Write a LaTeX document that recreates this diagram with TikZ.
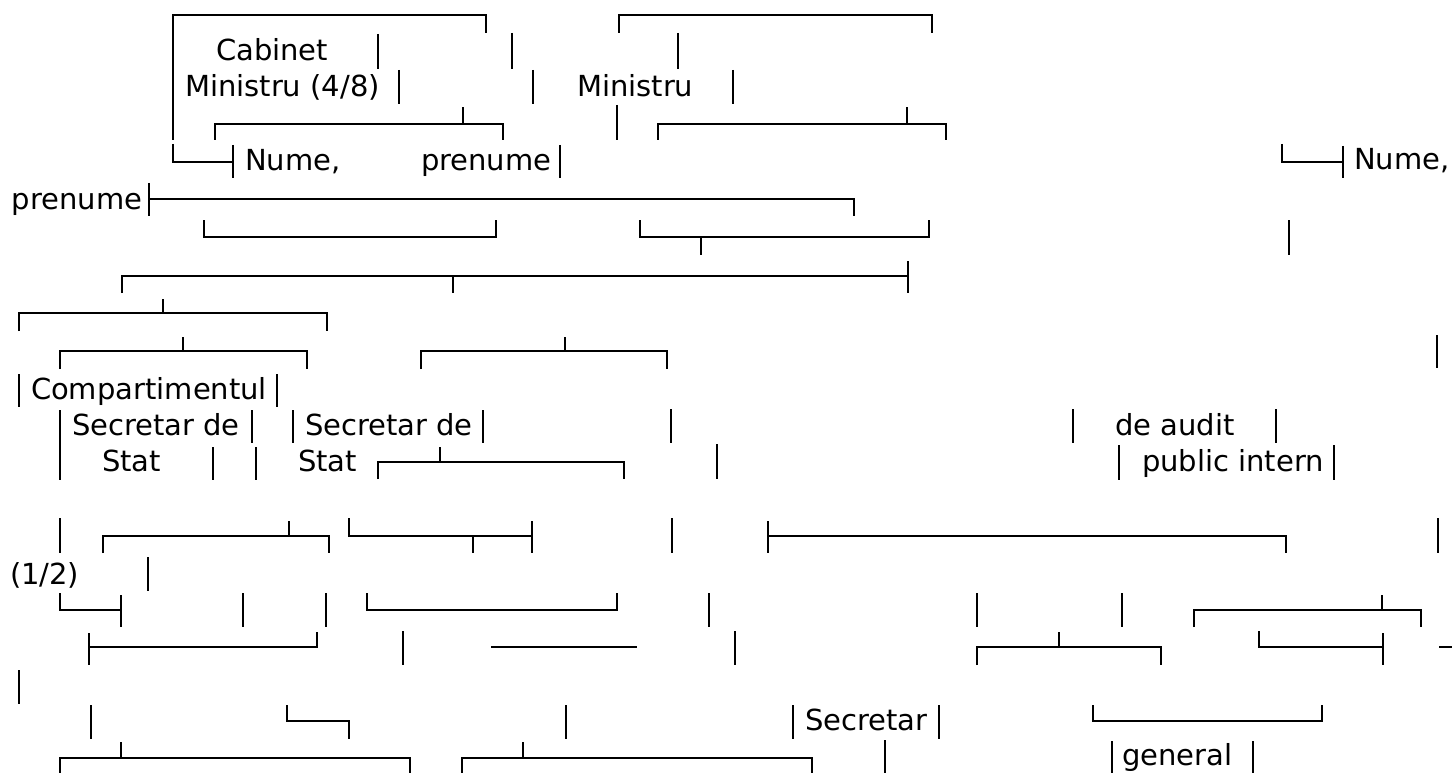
\documentclass[tikz,border=0pt]{standalone}
\usepackage{fontspec}
\setmainfont{DejaVu Sans}
\tikzset{
  bx/.style={line width=2pt, line cap=butt, line join=miter, black},
  lbl/.style={anchor=base west, inner sep=0pt, outer sep=0pt, font=\fontsize{29}{34}\selectfont}
}
\begin{document}
\begin{tikzpicture}[x=1pt,y=-1pt]
\useasboundingbox[fill=white] (0,0) rectangle (1452,773);
% ---------- text ----------
\node[lbl] (cab)  at (216,61) {Cabinet};
\node[lbl] (min1) at (185,97) {Ministru (4/8)};
\node[lbl] (min2) at (577,97) {Ministru};
\node[lbl] (num1) at (245,171) {Nume,};
\node[lbl] (pre1) at (421,171) {prenume};
\node[lbl] (num2) at (1354,170) {Nume,};
\node[lbl] (pre2) at (12,209) {prenume};
\node[lbl] (comp) at (31,399) {Compartimentul};
\node[lbl] (sec1) at (72,435) {Secretar de};
\node[lbl] (sec2) at (305,435) {Secretar de};
\node[lbl] (aud)  at (1115,435) {de audit};
\node[lbl] (st1)  at (102,471) {Stat};
\node[lbl] (st2)  at (298,471) {Stat};
\node[lbl] (pub)  at (1142,471) {public intern};
\node[lbl] (half) at (10,584) {(1/2)};
\node[lbl] (secg) at (805,730) {Secretar};
\node[lbl] (gen)  at (1122,765) {general};
% ---------- row 0 ----------
\draw[bx] (173,140) -- (173,15) -- (486,15) -- (486,33);
\draw[bx] (619,33) -- (619,15) -- (932,15) -- (932,33);
% ---------- row 1 ----------
\draw[bx] (378,34) -- (378,69);
\draw[bx] (512,33) -- (512,69);
\draw[bx] (678,33) -- (678,69);
% ---------- row 2 ----------
\draw[bx] (399,70) -- (399,104);
\draw[bx] (533,70) -- (533,104);
\draw[bx] (733,70) -- (733,104);
% ---------- row 3 ----------
\draw[bx] (215,140) -- (215,124) -- (503,124) -- (503,140);
\draw[bx] (463,124) -- (463,107);
\draw[bx] (617,105) -- (617,140);
\draw[bx] (658,140) -- (658,124) -- (946,124) -- (946,140);
\draw[bx] (907,124) -- (907,107);
% ---------- row 4 ----------
\draw[bx] (173,144) -- (173,162) -- (233,162);
\draw[bx] (233,145) -- (233,178);
\draw[bx] (560,145) -- (560,178);
\draw[bx] (1282,144) -- (1282,162) -- (1343,162);
\draw[bx] (1343,146) -- (1343,178);
% ---------- row 5 ----------
\draw[bx] (149,183) -- (149,216);
\draw[bx] (149,199) -- (854,199) -- (854,216);
% ---------- row 6 ----------
\draw[bx] (204,220) -- (204,237) -- (496,237) -- (496,220);
\draw[bx] (640,220) -- (640,237) -- (929,237) -- (929,220);
\draw[bx] (701,237) -- (701,255);
\draw[bx] (1289,220) -- (1289,255);
% ---------- row 7 ----------
\draw[bx] (122,293) -- (122,276) -- (908,276);
\draw[bx] (908,261) -- (908,293);
\draw[bx] (453,276) -- (453,293);
% ---------- row 8 ----------
\draw[bx] (19,331) -- (19,313) -- (327,313) -- (327,331);
\draw[bx] (163,313) -- (163,299);
% ---------- row 9 ----------
\draw[bx] (60,369) -- (60,351) -- (307,351) -- (307,369);
\draw[bx] (183,351) -- (183,337);
\draw[bx] (421,369) -- (421,351) -- (667,351) -- (667,369);
\draw[bx] (565,351) -- (565,337);
\draw[bx] (1437,335) -- (1437,368);
% ---------- row 10 ----------
\draw[bx] (19,374) -- (19,407);
\draw[bx] (277,374) -- (277,407);
% ---------- row 11 ----------
\draw[bx] (60,410) -- (60,480);
\draw[bx] (252,410) -- (252,443);
\draw[bx] (293,410) -- (293,443);
\draw[bx] (483,410) -- (483,443);
\draw[bx] (671,409) -- (671,443);
\draw[bx] (1073,409) -- (1073,443);
\draw[bx] (1276,409) -- (1276,443);
% ---------- row 12 ----------
\draw[bx] (213,447) -- (213,480);
\draw[bx] (256,447) -- (256,480);
\draw[bx] (378,479) -- (378,462) -- (624,462) -- (624,479);
\draw[bx] (440,462) -- (440,447);
\draw[bx] (717,444) -- (717,479);
\draw[bx] (1119,445) -- (1119,480);
\draw[bx] (1334,445) -- (1334,480);
% ---------- row 14 ----------
\draw[bx] (60,518) -- (60,553);
\draw[bx] (103,553) -- (103,536) -- (329,536) -- (329,553);
\draw[bx] (289,536) -- (289,521);
\draw[bx] (349,518) -- (349,536) -- (532,536);
\draw[bx] (532,521) -- (532,553);
\draw[bx] (473,536) -- (473,553);
\draw[bx] (672,518) -- (672,553);
\draw[bx] (768,521) -- (768,553);
\draw[bx] (768,536) -- (1286,536) -- (1286,553);
\draw[bx] (1438,518) -- (1438,553);
% ---------- row 15 ----------
\draw[bx] (148,557) -- (148,591);
% ---------- row 16 ----------
\draw[bx] (60,593) -- (60,610) -- (121,610);
\draw[bx] (121,595) -- (121,627);
\draw[bx] (243,593) -- (243,627);
\draw[bx] (326,593) -- (326,627);
\draw[bx] (367,593) -- (367,610) -- (617,610) -- (617,593);
\draw[bx] (709,593) -- (709,627);
\draw[bx] (977,593) -- (977,627);
\draw[bx] (1122,593) -- (1122,627);
\draw[bx] (1194,627) -- (1194,610) -- (1421,610) -- (1421,627);
\draw[bx] (1382,610) -- (1382,595);
% ---------- row 17 ----------
\draw[bx] (89,633) -- (89,665);
\draw[bx] (89,647) -- (317,647) -- (317,632);
\draw[bx] (403,631) -- (403,665);
\draw[bx] (491,647) -- (637,647);
\draw[bx] (735,631) -- (735,665);
\draw[bx] (977,665) -- (977,647) -- (1161,647) -- (1161,665);
\draw[bx] (1059,647) -- (1059,632);
\draw[bx] (1259,631) -- (1259,647) -- (1383,647);
\draw[bx] (1383,633) -- (1383,665);
\draw[bx] (1439,647) -- (1452,647);
% ---------- row 18 ----------
\draw[bx] (19,670) -- (19,704);
% ---------- row 19 ----------
\draw[bx] (91,705) -- (91,739);
\draw[bx] (287,705) -- (287,721) -- (349,721) -- (349,739);
\draw[bx] (566,705) -- (566,739);
\draw[bx] (793,705) -- (793,739);
\draw[bx] (939,705) -- (939,739);
\draw[bx] (1093,705) -- (1093,721) -- (1322,721) -- (1322,705);
% ---------- row 20 ----------
\draw[bx] (60,773) -- (60,758) -- (410,758) -- (410,773);
\draw[bx] (121,758) -- (121,742);
\draw[bx] (462,773) -- (462,758) -- (812,758) -- (812,773);
\draw[bx] (523,758) -- (523,742);
\draw[bx] (885,740) -- (885,773);
\draw[bx] (1112,741) -- (1112,773);
\draw[bx] (1253,741) -- (1253,773);
\end{tikzpicture}
\end{document}
